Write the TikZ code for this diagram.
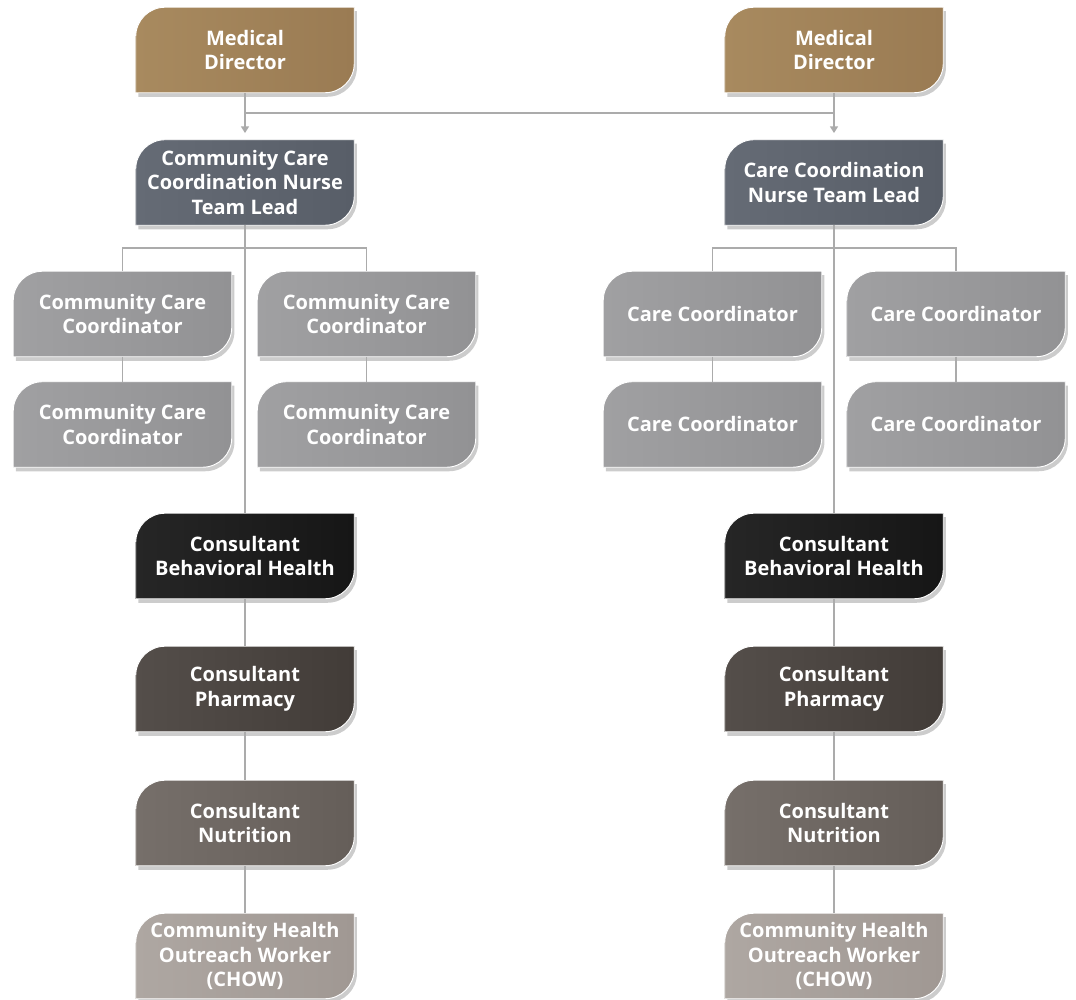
\documentclass[tikz,border=0pt]{standalone}
\usepackage{fontspec}
\setmainfont{Open Sans}
\usetikzlibrary{shadows,arrows.meta,backgrounds}
\definecolor{mdL}{HTML}{A88A5F}
\definecolor{mdR}{HTML}{9A7B53}
\definecolor{ldL}{HTML}{656B75}
\definecolor{ldR}{HTML}{585E68}
\definecolor{ccL}{HTML}{A0A0A2}
\definecolor{ccR}{HTML}{929294}
\definecolor{bhL}{HTML}{262626}
\definecolor{bhR}{HTML}{161616}
\definecolor{phL}{HTML}{544E4A}
\definecolor{phR}{HTML}{423C38}
\definecolor{nuL}{HTML}{766F6A}
\definecolor{nuR}{HTML}{655E59}
\definecolor{chL}{HTML}{AEA7A2}
\definecolor{chR}{HTML}{A09893}
\definecolor{lineC}{HTML}{ABABAB}
\def\boxrad{22pt}
\tikzset{
  boxtext/.style={inner sep=0pt, minimum width=163.5pt, minimum height=63.75pt,
    align=center, text=white, font=\bfseries\fontsize{15}{18.5}\selectfont},
  conn/.style={draw=lineC, line width=1pt},
  arr/.style={conn, -{Triangle[width=6pt,length=5pt]}, shorten >=5pt},
  boxshade/.style={drop shadow={shadow xshift=2pt, shadow yshift=-3pt, opacity=0.2, fill=black},
    draw=white, line width=0.7pt}
}
\newcommand{\orgbox}[6]{%
  \node[boxtext] (#1) at (#2,#3) {#6};
  \begin{scope}[on background layer]
    \shade[boxshade, left color=#4, right color=#5]
      (#1.south west) -- ([yshift=-\boxrad]#1.north west)
      arc[start angle=180, end angle=90, radius=\boxrad]
      -- (#1.north east) -- ([yshift=\boxrad]#1.south east)
      arc[start angle=0, end angle=-90, radius=\boxrad] -- cycle;
  \end{scope}}
\begin{document}
\begin{tikzpicture}[x=0.75pt, y=0.75pt]
\useasboundingbox (0,0) rectangle (1076,1000);
% left column
\orgbox{md1}{245}{950}{mdL}{mdR}{Medical\\Director}
\orgbox{lead1}{245}{817.5}{ldL}{ldR}{Community Care\\Coordination Nurse\\Team Lead}
\orgbox{cc1a}{122.5}{686}{ccL}{ccR}{Community Care\\Coordinator}
\orgbox{cc1b}{366.5}{686}{ccL}{ccR}{Community Care\\Coordinator}
\orgbox{cc1c}{122.5}{575.5}{ccL}{ccR}{Community Care\\Coordinator}
\orgbox{cc1d}{366.5}{575.5}{ccL}{ccR}{Community Care\\Coordinator}
\orgbox{bh1}{245}{444}{bhL}{bhR}{Consultant\\Behavioral Health}
\orgbox{ph1}{245}{311}{phL}{phR}{Consultant\\Pharmacy}
\orgbox{nu1}{245}{177}{nuL}{nuR}{Consultant\\Nutrition}
\orgbox{ch1}{245}{44}{chL}{chR}{Community Health\\Outreach Worker\\(CHOW)}
% right column
\orgbox{md2}{834}{950}{mdL}{mdR}{Medical\\Director}
\orgbox{lead2}{834}{817.5}{ldL}{ldR}{Care Coordination\\Nurse Team Lead}
\orgbox{cc2a}{712.5}{686}{ccL}{ccR}{Care Coordinator}
\orgbox{cc2b}{956}{686}{ccL}{ccR}{Care Coordinator}
\orgbox{cc2c}{712.5}{575.5}{ccL}{ccR}{Care Coordinator}
\orgbox{cc2d}{956}{575.5}{ccL}{ccR}{Care Coordinator}
\orgbox{bh2}{834}{444}{bhL}{bhR}{Consultant\\Behavioral Health}
\orgbox{ph2}{834}{311}{phL}{phR}{Consultant\\Pharmacy}
\orgbox{nu2}{834}{177}{nuL}{nuR}{Consultant\\Nutrition}
\orgbox{ch2}{834}{44}{chL}{chR}{Community Health\\Outreach Worker\\(CHOW)}
% connectors
\coordinate (j1) at (245,887);
\coordinate (j2) at (834,887);
\draw[arr] (md1.south) -- (lead1.north);
\draw[arr] (md2.south) -- (lead2.north);
\draw[conn] (j1) -- (j2);
\coordinate (t1) at (245,752);
\coordinate (t2) at (834,752);
\foreach \s in {1,2}{
  \draw[conn] (lead\s.south) -- (bh\s.north);
  \draw[conn] (cc\s a.north) -- (cc\s a.north |- t\s) -- (cc\s b.north |- t\s) -- (cc\s b.north);
  \draw[conn] (cc\s a.south) -- (cc\s c.north);
  \draw[conn] (cc\s b.south) -- (cc\s d.north);
  \draw[conn] (bh\s.south) -- (ph\s.north);
  \draw[conn] (ph\s.south) -- (nu\s.north);
  \draw[conn] (nu\s.south) -- (ch\s.north);
}
\end{tikzpicture}
\end{document}
